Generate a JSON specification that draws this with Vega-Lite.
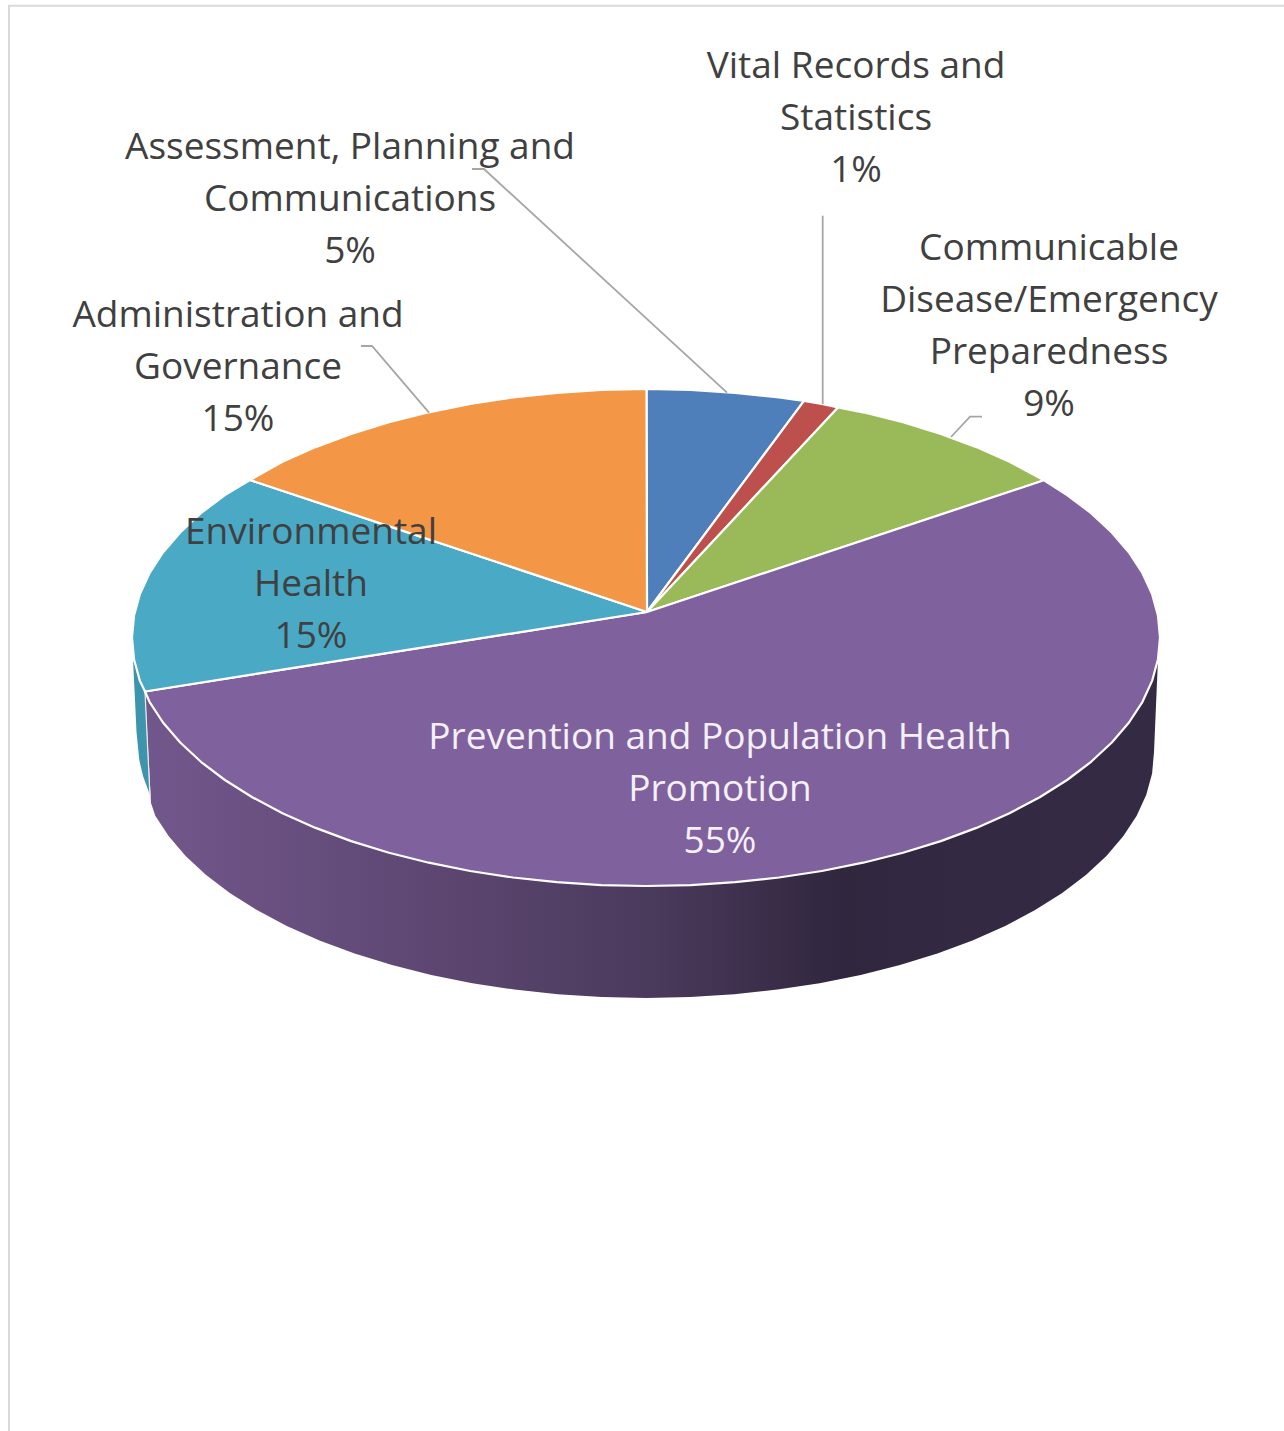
{
"$schema":"https://vega.github.io/schema/vega-lite/v6.json",
"autosize":{"type":"fit","contains":"padding"},
"width":1284,"height":1431,"padding":0,"background":"white",
"config":{"view":{"stroke":null}},
"datasets":{
"frame":[{"i":0,"x":1284,"y":5.7},{"i":1,"x":9,"y":5.7},{"i":2,"x":9,"y":1431}],
"wallPurple":[{"i":0,"x":1158,"y":659},{"i":1,"x":145,"y":691.5},{"i":2,"x":151,"y":803},{"i":3,"x":155.3,"y":815.7},{"i":4,"x":168.6,"y":836.1},{"i":5,"x":185.6,"y":856},{"i":6,"x":206.1,"y":875},{"i":7,"x":229.8,"y":893.1},{"i":8,"x":256.9,"y":910.1},{"i":9,"x":286.8,"y":926},{"i":10,"x":319.5,"y":940.4},{"i":11,"x":354.6,"y":953.5},{"i":12,"x":392,"y":965},{"i":13,"x":431.3,"y":974.9},{"i":14,"x":472.3,"y":983.2},{"i":15,"x":514.5,"y":989.6},{"i":16,"x":557.8,"y":994.3},{"i":17,"x":601.7,"y":997.1},{"i":18,"x":646,"y":998},{"i":19,"x":690.3,"y":997.1},{"i":20,"x":734.2,"y":994.3},{"i":21,"x":777.5,"y":989.6},{"i":22,"x":819.7,"y":983.2},{"i":23,"x":860.7,"y":974.9},{"i":24,"x":900,"y":965},{"i":25,"x":937.4,"y":953.5},{"i":26,"x":972.5,"y":940.4},{"i":27,"x":1005.2,"y":926},{"i":28,"x":1035.1,"y":910.1},{"i":29,"x":1062.2,"y":893.1},{"i":30,"x":1085.9,"y":875},{"i":31,"x":1106.4,"y":856},{"i":32,"x":1123.4,"y":836.1},{"i":33,"x":1136.7,"y":815.7},{"i":34,"x":1146.3,"y":794.7},{"i":35,"x":1152.1,"y":773.4},{"i":36,"x":1154,"y":752},{"i":37,"x":1158,"y":659}],
"wallTeal":[{"i":0,"x":133,"y":660},{"i":1,"x":135,"y":700},{"i":2,"x":136.5,"y":732},{"i":3,"x":139.3,"y":760},{"i":4,"x":143,"y":776},{"i":5,"x":150,"y":795},{"i":6,"x":145,"y":691.5},{"i":7,"x":133,"y":660}],
"seam":[{"i":0,"x":145,"y":691.5},{"i":1,"x":150,"y":797}],
"slices":[
{"slice":"Assessment, Planning and Communications","share":5,"i":0,"x":647,"y":612},{"slice":"Assessment, Planning and Communications","share":5,"i":1,"x":646.5,"y":389},{"slice":"Assessment, Planning and Communications","share":5,"i":2,"x":690.8,"y":389.9},{"slice":"Assessment, Planning and Communications","share":5,"i":3,"x":735.2,"y":392.8},{"slice":"Assessment, Planning and Communications","share":5,"i":4,"x":779,"y":397.5},{"slice":"Assessment, Planning and Communications","share":5,"i":5,"x":804,"y":400.8},{"slice":"Assessment, Planning and Communications","share":5,"i":6,"x":647,"y":612},
{"slice":"Vital Records and Statistics","share":1,"i":0,"x":647,"y":612},{"slice":"Vital Records and Statistics","share":1,"i":1,"x":804,"y":400.8},{"slice":"Vital Records and Statistics","share":1,"i":2,"x":821.8,"y":404},{"slice":"Vital Records and Statistics","share":1,"i":3,"x":838,"y":407.5},{"slice":"Vital Records and Statistics","share":1,"i":4,"x":647,"y":612},
{"slice":"Communicable Disease/Emergency Preparedness","share":9,"i":0,"x":647,"y":612},{"slice":"Communicable Disease/Emergency Preparedness","share":9,"i":1,"x":838,"y":407.5},{"slice":"Communicable Disease/Emergency Preparedness","share":9,"i":2,"x":863.2,"y":412.3},{"slice":"Communicable Disease/Emergency Preparedness","share":9,"i":3,"x":903,"y":422.3},{"slice":"Communicable Disease/Emergency Preparedness","share":9,"i":4,"x":940.8,"y":433.9},{"slice":"Communicable Disease/Emergency Preparedness","share":9,"i":5,"x":976.4,"y":447.1},{"slice":"Communicable Disease/Emergency Preparedness","share":9,"i":6,"x":1009.5,"y":461.8},{"slice":"Communicable Disease/Emergency Preparedness","share":9,"i":7,"x":1044,"y":480.3},{"slice":"Communicable Disease/Emergency Preparedness","share":9,"i":8,"x":647,"y":612},
{"slice":"Prevention and Population Health Promotion","share":55,"i":0,"x":647,"y":612},{"slice":"Prevention and Population Health Promotion","share":55,"i":1,"x":1044,"y":480.3},{"slice":"Prevention and Population Health Promotion","share":55,"i":2,"x":1067.1,"y":495},{"slice":"Prevention and Population Health Promotion","share":55,"i":3,"x":1091.1,"y":513.2},{"slice":"Prevention and Population Health Promotion","share":55,"i":4,"x":1111.8,"y":532.5},{"slice":"Prevention and Population Health Promotion","share":55,"i":5,"x":1129,"y":552.5},{"slice":"Prevention and Population Health Promotion","share":55,"i":6,"x":1142.5,"y":573.2},{"slice":"Prevention and Population Health Promotion","share":55,"i":7,"x":1152.2,"y":594.4},{"slice":"Prevention and Population Health Promotion","share":55,"i":8,"x":1158,"y":615.8},{"slice":"Prevention and Population Health Promotion","share":55,"i":9,"x":1160,"y":637.5},{"slice":"Prevention and Population Health Promotion","share":55,"i":10,"x":1158,"y":659.2},{"slice":"Prevention and Population Health Promotion","share":55,"i":11,"x":1152.2,"y":680.6},{"slice":"Prevention and Population Health Promotion","share":55,"i":12,"x":1142.5,"y":701.8},{"slice":"Prevention and Population Health Promotion","share":55,"i":13,"x":1129,"y":722.5},{"slice":"Prevention and Population Health Promotion","share":55,"i":14,"x":1111.8,"y":742.5},{"slice":"Prevention and Population Health Promotion","share":55,"i":15,"x":1091.1,"y":761.8},{"slice":"Prevention and Population Health Promotion","share":55,"i":16,"x":1067.1,"y":780},{"slice":"Prevention and Population Health Promotion","share":55,"i":17,"x":1039.7,"y":797.2},{"slice":"Prevention and Population Health Promotion","share":55,"i":18,"x":1009.5,"y":813.2},{"slice":"Prevention and Population Health Promotion","share":55,"i":19,"x":976.4,"y":827.9},{"slice":"Prevention and Population Health Promotion","share":55,"i":20,"x":940.8,"y":841.1},{"slice":"Prevention and Population Health Promotion","share":55,"i":21,"x":903,"y":852.7},{"slice":"Prevention and Population Health Promotion","share":55,"i":22,"x":863.2,"y":862.7},{"slice":"Prevention and Population Health Promotion","share":55,"i":23,"x":821.8,"y":871},{"slice":"Prevention and Population Health Promotion","share":55,"i":24,"x":779,"y":877.5},{"slice":"Prevention and Population Health Promotion","share":55,"i":25,"x":735.2,"y":882.2},{"slice":"Prevention and Population Health Promotion","share":55,"i":26,"x":690.8,"y":885.1},{"slice":"Prevention and Population Health Promotion","share":55,"i":27,"x":646,"y":886},{"slice":"Prevention and Population Health Promotion","share":55,"i":28,"x":601.2,"y":885.1},{"slice":"Prevention and Population Health Promotion","share":55,"i":29,"x":556.8,"y":882.2},{"slice":"Prevention and Population Health Promotion","share":55,"i":30,"x":513,"y":877.5},{"slice":"Prevention and Population Health Promotion","share":55,"i":31,"x":470.2,"y":871},{"slice":"Prevention and Population Health Promotion","share":55,"i":32,"x":428.8,"y":862.7},{"slice":"Prevention and Population Health Promotion","share":55,"i":33,"x":389,"y":852.7},{"slice":"Prevention and Population Health Promotion","share":55,"i":34,"x":351.2,"y":841.1},{"slice":"Prevention and Population Health Promotion","share":55,"i":35,"x":315.6,"y":827.9},{"slice":"Prevention and Population Health Promotion","share":55,"i":36,"x":282.5,"y":813.2},{"slice":"Prevention and Population Health Promotion","share":55,"i":37,"x":252.3,"y":797.2},{"slice":"Prevention and Population Health Promotion","share":55,"i":38,"x":224.9,"y":780},{"slice":"Prevention and Population Health Promotion","share":55,"i":39,"x":200.9,"y":761.8},{"slice":"Prevention and Population Health Promotion","share":55,"i":40,"x":180.2,"y":742.5},{"slice":"Prevention and Population Health Promotion","share":55,"i":41,"x":163,"y":722.5},{"slice":"Prevention and Population Health Promotion","share":55,"i":42,"x":149.5,"y":701.8},{"slice":"Prevention and Population Health Promotion","share":55,"i":43,"x":145,"y":691.5},{"slice":"Prevention and Population Health Promotion","share":55,"i":44,"x":647,"y":612},
{"slice":"Environmental Health","share":15,"i":0,"x":647,"y":612},{"slice":"Environmental Health","share":15,"i":1,"x":145,"y":691.5},{"slice":"Environmental Health","share":15,"i":2,"x":139.8,"y":680.6},{"slice":"Environmental Health","share":15,"i":3,"x":134,"y":659.2},{"slice":"Environmental Health","share":15,"i":4,"x":132,"y":637.5},{"slice":"Environmental Health","share":15,"i":5,"x":134,"y":615.8},{"slice":"Environmental Health","share":15,"i":6,"x":139.8,"y":594.4},{"slice":"Environmental Health","share":15,"i":7,"x":149.5,"y":573.2},{"slice":"Environmental Health","share":15,"i":8,"x":163,"y":552.5},{"slice":"Environmental Health","share":15,"i":9,"x":180.2,"y":532.5},{"slice":"Environmental Health","share":15,"i":10,"x":200.9,"y":513.2},{"slice":"Environmental Health","share":15,"i":11,"x":224.9,"y":495},{"slice":"Environmental Health","share":15,"i":12,"x":250,"y":480},{"slice":"Environmental Health","share":15,"i":13,"x":647,"y":612},
{"slice":"Administration and Governance","share":15,"i":0,"x":647,"y":612},{"slice":"Administration and Governance","share":15,"i":1,"x":250,"y":480},{"slice":"Administration and Governance","share":15,"i":2,"x":282.5,"y":461.8},{"slice":"Administration and Governance","share":15,"i":3,"x":315.6,"y":447.1},{"slice":"Administration and Governance","share":15,"i":4,"x":351.2,"y":433.9},{"slice":"Administration and Governance","share":15,"i":5,"x":389,"y":422.3},{"slice":"Administration and Governance","share":15,"i":6,"x":428.8,"y":412.3},{"slice":"Administration and Governance","share":15,"i":7,"x":470.2,"y":404},{"slice":"Administration and Governance","share":15,"i":8,"x":513,"y":397.5},{"slice":"Administration and Governance","share":15,"i":9,"x":556.8,"y":392.8},{"slice":"Administration and Governance","share":15,"i":10,"x":601.2,"y":389.9},{"slice":"Administration and Governance","share":15,"i":11,"x":646.5,"y":389},{"slice":"Administration and Governance","share":15,"i":12,"x":647,"y":612}
],
"leaders":[
{"slice":"Assessment","i":0,"x":472,"y":169},{"slice":"Assessment","i":1,"x":484,"y":169},{"slice":"Assessment","i":2,"x":727,"y":392.7},
{"slice":"Administration","i":0,"x":361,"y":346},{"slice":"Administration","i":1,"x":372,"y":346},{"slice":"Administration","i":2,"x":429,"y":412.7},
{"slice":"Vital","i":0,"x":822.7,"y":215.7},{"slice":"Vital","i":1,"x":822.7,"y":404},
{"slice":"Communicable","i":0,"x":982,"y":416.7},{"slice":"Communicable","i":1,"x":970,"y":416.7},{"slice":"Communicable","i":2,"x":951,"y":437}
],
"labels":[
{"slice":"Vital Records and Statistics","label":"Vital Records and\nStatistics\n1%","x":856,"y":67},
{"slice":"Assessment, Planning and Communications","label":"Assessment, Planning and\nCommunications\n5%","x":350,"y":148},
{"slice":"Communicable Disease/Emergency Preparedness","label":"Communicable\nDisease/Emergency\nPreparedness\n9%","x":1049,"y":249},
{"slice":"Administration and Governance","label":"Administration and\nGovernance\n15%","x":238,"y":316},
{"slice":"Environmental Health","label":"Environmental\nHealth\n15%","x":311,"y":533},
{"slice":"Prevention and Population Health Promotion","label":"Prevention and Population Health\nPromotion\n55%","x":720,"y":738}
]
},
"encoding":{
"x":{"field":"x","type":"quantitative","axis":null,"scale":{"domain":[0,1284],"nice":false,"zero":false}},
"y":{"field":"y","type":"quantitative","axis":null,"scale":{"domain":[1431,0],"nice":false,"zero":false}}
},
"layer":[
{"data":{"name":"frame"},"mark":{"type":"line","stroke":"#d9d9d9","strokeWidth":2,"clip":true},"encoding":{"order":{"field":"i"}}},
{"data":{"name":"wallTeal"},"mark":{"type":"line","fill":"#3e94ac","strokeWidth":0},"encoding":{"order":{"field":"i"}}},
{"data":{"name":"wallPurple"},"mark":{"type":"line","strokeWidth":0,"fill":{"gradient":"linear","x1":0,"x2":1,"y1":0,"y2":0,"stops":[{"offset":0,"color":"#72578c"},{"offset":0.3,"color":"#5c4670"},{"offset":0.5,"color":"#4a3a5c"},{"offset":0.69,"color":"#30263e"},{"offset":0.8,"color":"#342942"},{"offset":1,"color":"#352a44"}]}},"encoding":{"order":{"field":"i"}}},
{"data":{"name":"seam"},"mark":{"type":"line","stroke":"#e8eef2","strokeWidth":1.2},"encoding":{"order":{"field":"i"}}},
{"data":{"name":"slices"},"mark":{"type":"line","stroke":"white","strokeWidth":2.2,"strokeJoin":"round"},"encoding":{
"order":{"field":"i"},
"fill":{"field":"slice","type":"nominal","legend":null,"scale":{
"domain":["Assessment, Planning and Communications","Vital Records and Statistics","Communicable Disease/Emergency Preparedness","Prevention and Population Health Promotion","Environmental Health","Administration and Governance"],
"range":["#4f7fba","#bd4f4c","#9aba59","#7f619e","#4aa9c5","#f39645"]}}}},
{"data":{"name":"leaders"},"mark":{"type":"line","stroke":"#a6a6a6","strokeWidth":1.8},"encoding":{"order":{"field":"i"},"detail":{"field":"slice"}}},
{"data":{"name":"labels"},"mark":{"type":"text","font":"Open Sans","fontSize":37,"lineBreak":"\n","lineHeight":52,"align":"center","baseline":"middle"},"encoding":{
"text":{"field":"label"},
"color":{"field":"slice","type":"nominal","legend":null,"scale":{
"domain":["Vital Records and Statistics","Assessment, Planning and Communications","Communicable Disease/Emergency Preparedness","Administration and Governance","Environmental Health","Prevention and Population Health Promotion"],
"range":["#404040","#404040","#404040","#404040","#404040","#f4f0f7"]}}}}
]
}
